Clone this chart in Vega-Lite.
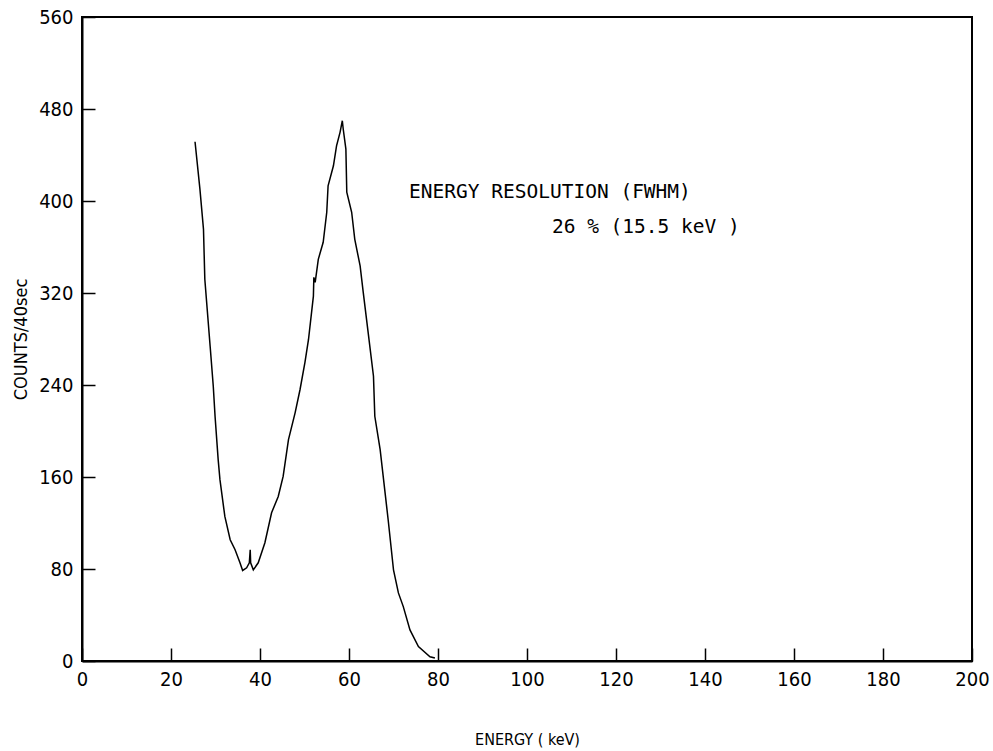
{
  "$schema": "https://vega.github.io/schema/vega-lite/v6.json",
  "width": 890,
  "height": 644,
  "autosize": {"type": "none"},
  "padding": {"left": 82, "top": 17, "right": 21, "bottom": 90},
  "background": "white",
  "config": {
    "view": {"stroke": "black", "strokeWidth": 2},
    "font": "DejaVu Sans Condensed",
    "axis": {
      "grid": false,
      "zindex": 1,
      "ticks": true,
      "domainColor": "black",
      "domainWidth": 2,
      "tickColor": "black",
      "tickWidth": 1.5,
      "tickSize": -13,
      "labelColor": "black",
      "labelFontSize": 20,
      "labelFont": "DejaVu Sans Condensed",
      "titleFont": "DejaVu Sans Condensed",
      "titleFontWeight": "normal",
      "titleColor": "black"
    }
  },
  "datasets": {
    "spectrum": [
      {"energy": 25.4, "counts": 451.5},
      {"energy": 26.5, "counts": 410.3},
      {"energy": 27.3, "counts": 375.4},
      {"energy": 27.6, "counts": 331.9},
      {"energy": 28.8, "counts": 273.5},
      {"energy": 29.5, "counts": 238.9},
      {"energy": 29.9, "counts": 212.8},
      {"energy": 30.6, "counts": 175.1},
      {"energy": 31.0, "counts": 157.7},
      {"energy": 32.1, "counts": 125.7},
      {"energy": 33.3, "counts": 105.4},
      {"energy": 34.4, "counts": 96.7},
      {"energy": 35.5, "counts": 85.4},
      {"energy": 36.1, "counts": 78.7},
      {"energy": 37.0, "counts": 81.0},
      {"energy": 37.6, "counts": 85.4},
      {"energy": 37.8, "counts": 96.7},
      {"energy": 37.9, "counts": 85.4},
      {"energy": 38.5, "counts": 79.3},
      {"energy": 39.6, "counts": 85.4},
      {"energy": 41.1, "counts": 102.8},
      {"energy": 42.6, "counts": 128.9},
      {"energy": 44.1, "counts": 143.1},
      {"energy": 45.2, "counts": 160.5},
      {"energy": 46.4, "counts": 192.5},
      {"energy": 47.9, "counts": 216.0},
      {"energy": 49.0, "counts": 236.1},
      {"energy": 50.1, "counts": 259.6},
      {"energy": 50.9, "counts": 279.6},
      {"energy": 52.0, "counts": 317.3},
      {"energy": 52.1, "counts": 333.6},
      {"energy": 52.4, "counts": 329.3},
      {"energy": 53.1, "counts": 349.3},
      {"energy": 54.2, "counts": 364.1},
      {"energy": 55.0, "counts": 390.2},
      {"energy": 55.3, "counts": 413.2},
      {"energy": 56.5, "counts": 430.6},
      {"energy": 57.2, "counts": 448.0},
      {"energy": 58.0, "counts": 459.9},
      {"energy": 58.5, "counts": 469.8},
      {"energy": 58.7, "counts": 462.6},
      {"energy": 59.3, "counts": 445.1},
      {"energy": 59.5, "counts": 407.7},
      {"energy": 60.6, "counts": 390.2},
      {"energy": 61.3, "counts": 366.7},
      {"energy": 62.5, "counts": 343.5},
      {"energy": 63.2, "counts": 320.6},
      {"energy": 64.3, "counts": 285.7},
      {"energy": 65.5, "counts": 247.6},
      {"energy": 65.8, "counts": 212.8},
      {"energy": 67.0, "counts": 183.8},
      {"energy": 68.8, "counts": 122.8},
      {"energy": 70.0, "counts": 79.3},
      {"energy": 71.1, "counts": 59.2},
      {"energy": 72.2, "counts": 47.3},
      {"energy": 73.7, "counts": 27.0},
      {"energy": 75.6, "counts": 12.5},
      {"energy": 78.2, "counts": 3.7},
      {"energy": 79.3, "counts": 2.6}
    ],
    "notes": [
      {"energy": 73.5, "counts": 407.7, "label": "ENERGY RESOLUTION (FWHM)"},
      {"energy": 105.6, "counts": 377.2, "label": "26 % (15.5 keV )"}
    ]
  },
  "layer": [
    {
      "data": {"name": "spectrum"},
      "mark": {"type": "line", "color": "black", "strokeWidth": 1.5},
      "encoding": {
        "x": {
          "field": "energy", "type": "quantitative",
          "scale": {"domain": [0, 200], "nice": false},
          "axis": {"values": [0, 20, 40, 60, 80, 100, 120, 140, 160, 180, 200], "title": "ENERGY ( keV)", "titleFontSize": 16, "titlePadding": 42, "labelPadding": 21, "labelFlush": false}
        },
        "y": {
          "field": "counts", "type": "quantitative",
          "scale": {"domain": [0, 560], "nice": false},
          "axis": {"values": [0, 80, 160, 240, 320, 400, 480, 560], "title": "COUNTS/40sec", "titleFontSize": 18, "titlePadding": 8, "labelPadding": 22}
        }
      }
    },
    {
      "data": {"name": "notes"},
      "mark": {"type": "text", "align": "left", "baseline": "middle", "fontSize": 19.5, "font": "DejaVu Sans Mono", "color": "black"},
      "encoding": {
        "x": {"field": "energy", "type": "quantitative"},
        "y": {"field": "counts", "type": "quantitative"},
        "text": {"field": "label"}
      }
    }
  ]
}
